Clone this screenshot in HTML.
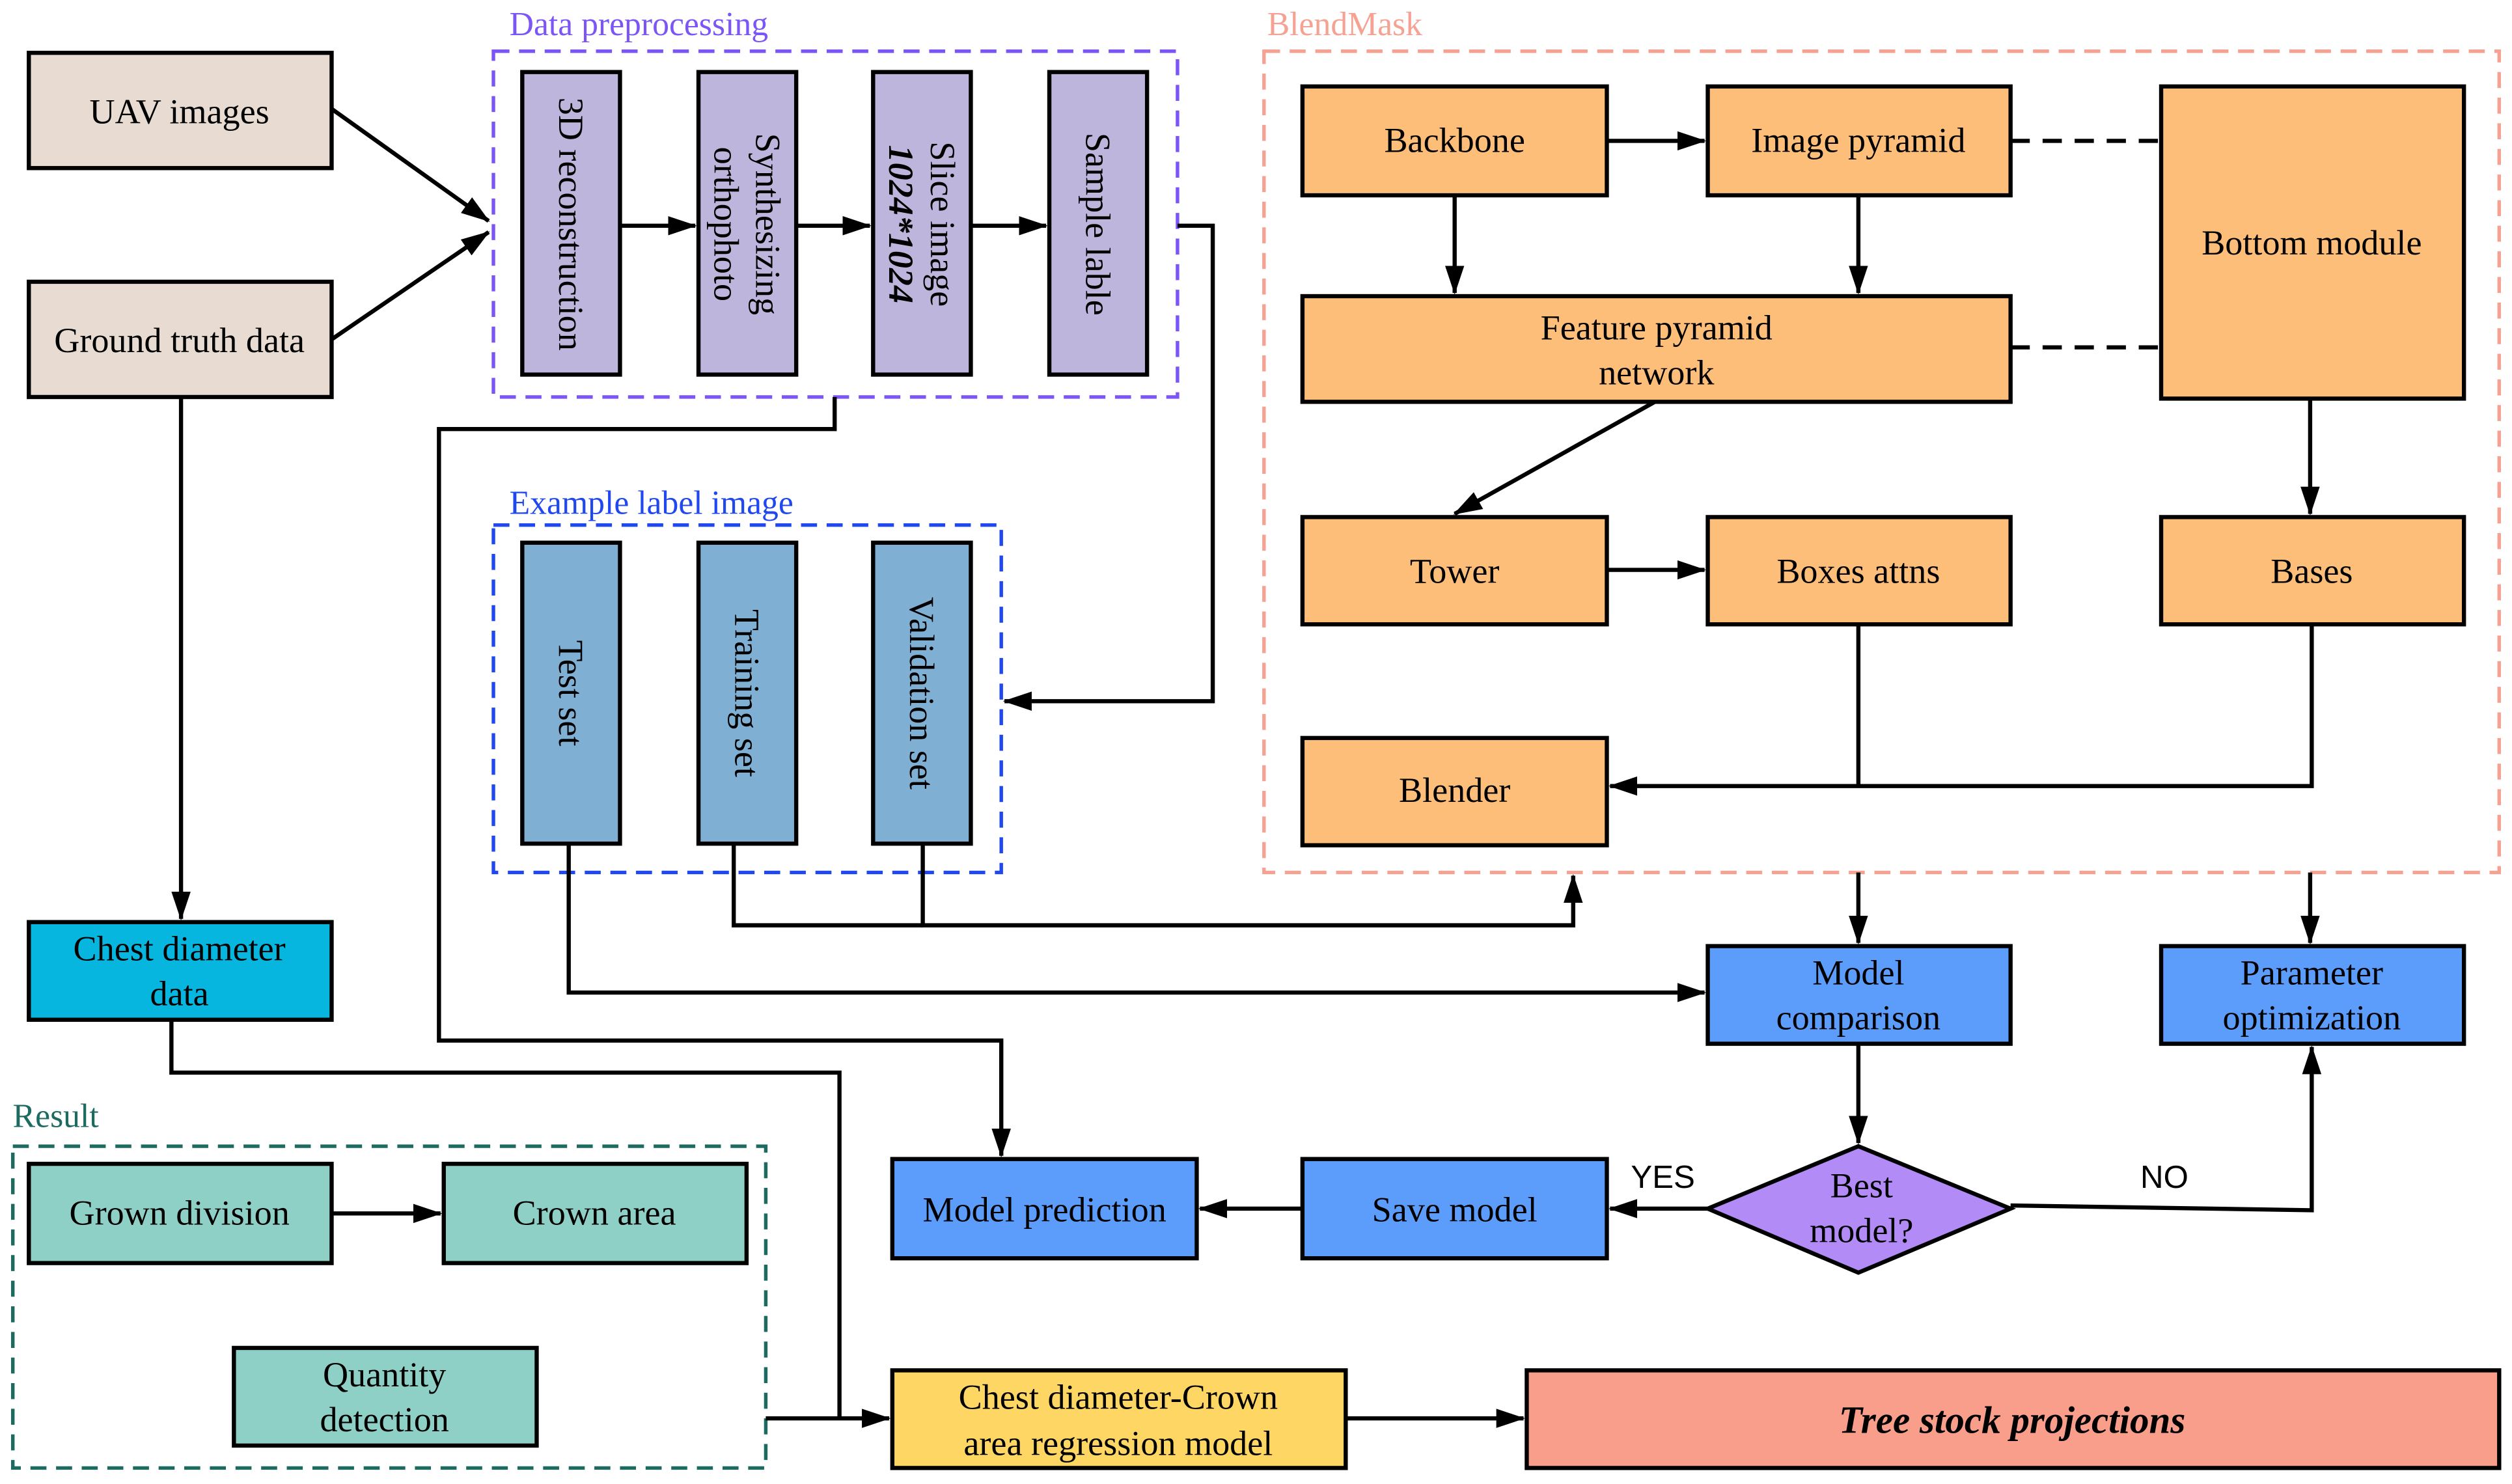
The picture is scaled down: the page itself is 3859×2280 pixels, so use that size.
<!DOCTYPE html>
<html><head><meta charset="utf-8"><style>html,body{margin:0;padding:0;background:#fff}svg{display:block}</style></head><body>
<svg width="3859" height="2280" viewBox="0 0 1568 927" preserveAspectRatio="none" xmlns="http://www.w3.org/2000/svg" font-family="Liberation Serif, serif" font-size="22">
<defs>
<marker id="b" markerWidth="18" markerHeight="12" refX="17" refY="6" orient="auto" markerUnits="userSpaceOnUse"><path d="M0,0 L18,6 L0,12z" fill="#000"/></marker></defs>
<g stroke="#000" stroke-width="2.6">
<rect x="308" y="32" width="427" height="216" fill="none" stroke="#7b55f6" stroke-width="2.2" stroke-dasharray="10,6"/>
<rect x="308" y="328" width="317" height="217" fill="none" stroke="#1f48f0" stroke-width="2.2" stroke-dasharray="10,6"/>
<rect x="789" y="32" width="771" height="513" fill="none" stroke="#f5a293" stroke-width="2.2" stroke-dasharray="10,6"/>
<rect x="8" y="716" width="470" height="201" fill="none" stroke="#1d6b60" stroke-width="2.2" stroke-dasharray="10,6"/>
<rect x="18" y="33" width="189" height="72" fill="#e7dbd2"/>
<rect x="18" y="176" width="189" height="72" fill="#e7dbd2"/>
<g fill="#bdb5dc"><rect x="326" y="45" width="61" height="189"/><rect x="436" y="45" width="61" height="189"/><rect x="545" y="45" width="61" height="189"/><rect x="655" y="45" width="61" height="189"/></g>
<g fill="#80afd4"><rect x="326" y="339" width="61" height="188"/><rect x="436" y="339" width="61" height="188"/><rect x="545" y="339" width="61" height="188"/></g>
<rect x="18" y="576" width="189" height="61" fill="#06b6df"/>
<g fill="#8ecfc6"><rect x="18" y="727" width="189" height="62"/><rect x="277" y="727" width="189" height="62"/><rect x="146" y="842" width="189" height="61"/></g>
<rect x="557" y="856" width="283" height="61" fill="#fdd663"/>
<rect x="953" y="856" width="607" height="61" fill="#f99e8a"/>
<g fill="#fdbe79"><rect x="813" y="54" width="190" height="68"/><rect x="1066" y="54" width="189" height="68"/><rect x="1349" y="54" width="189" height="195"/><rect x="813" y="185" width="442" height="66"/><rect x="813" y="323" width="190" height="67"/><rect x="1066" y="323" width="189" height="67"/><rect x="1349" y="323" width="189" height="67"/><rect x="813" y="461" width="190" height="67"/></g>
<g fill="#5c9dfb"><rect x="1066" y="591" width="189" height="61"/><rect x="1349" y="591" width="189" height="61"/><rect x="813" y="724" width="190" height="62"/><rect x="557" y="724" width="190" height="62"/></g>
<path d="M1066,755 L1160,716 L1255,755 L1160,795z" fill="#b38bf7"/>
<g fill="none">
<line x1="207" y1="68" x2="305" y2="138" marker-end="url(#b)"/>
<line x1="207" y1="212" x2="305" y2="145" marker-end="url(#b)"/>
<line x1="387" y1="141" x2="434" y2="141" marker-end="url(#b)"/>
<line x1="497" y1="141" x2="543" y2="141" marker-end="url(#b)"/>
<line x1="606" y1="141" x2="653" y2="141" marker-end="url(#b)"/>
<polyline points="735,141 757,141 757,438 627,438" marker-end="url(#b)"/>
<polyline points="521,248 521,268 274,268 274,650 625,650 625,722" marker-end="url(#b)"/>
<line x1="113" y1="248" x2="113" y2="574" marker-end="url(#b)"/>
<polyline points="107,637 107,670 524,670 524,886"/>
<line x1="478" y1="886" x2="555" y2="886" marker-end="url(#b)"/>
<line x1="207" y1="758" x2="275" y2="758" marker-end="url(#b)"/>
<line x1="840" y1="886" x2="951" y2="886" marker-end="url(#b)"/>
<line x1="1003" y1="88" x2="1064" y2="88" marker-end="url(#b)"/>
<line x1="908" y1="122" x2="908" y2="183" marker-end="url(#b)"/>
<line x1="1160" y1="122" x2="1160" y2="183" marker-end="url(#b)"/>
<line x1="1255" y1="88" x2="1349" y2="88" stroke-dasharray="12,8"/>
<line x1="1255" y1="217" x2="1349" y2="217" stroke-dasharray="12,8"/>
<line x1="1033" y1="251" x2="908" y2="321" marker-end="url(#b)"/>
<line x1="1003" y1="356" x2="1064" y2="356" marker-end="url(#b)"/>
<line x1="1442" y1="249" x2="1442" y2="321" marker-end="url(#b)"/>
<polyline points="1160,390 1160,491"/>
<polyline points="1443,390 1443,491 1005,491" marker-end="url(#b)"/>
<polyline points="458,527 458,578 576,578"/>
<polyline points="576,527 576,578 982,578 982,547" marker-end="url(#b)"/>
<polyline points="355,527 355,620 1064,620" marker-end="url(#b)"/>
<line x1="1160" y1="545" x2="1160" y2="589" marker-end="url(#b)"/>
<line x1="1442" y1="545" x2="1442" y2="589" marker-end="url(#b)"/>
<line x1="1160" y1="652" x2="1160" y2="714" marker-end="url(#b)"/>
<line x1="1066" y1="755" x2="1005" y2="755" marker-end="url(#b)"/>
<line x1="813" y1="755" x2="749" y2="755" marker-end="url(#b)"/>
<polyline points="1255,753 1443,756 1443,654" marker-end="url(#b)"/>
</g>
</g>
<g font-size="21">
<text x="318" y="22" fill="#7b55f6">Data preprocessing</text>
<text x="318" y="321" fill="#1f48f0">Example label image</text>
<text x="791" y="22" fill="#f5a293">BlendMask</text>
<text x="8" y="704" fill="#1d6b60">Result</text>
</g>
<g text-anchor="middle" fill="#000">
<text x="112" y="77">UAV images</text>
<text x="112" y="220">Ground truth data</text>
<text transform="translate(356,140) rotate(90)" y="7">3D reconstruction</text>
<text transform="translate(466,140) rotate(90)"><tspan x="0" y="-6">Synthesizing</tspan><tspan x="0" y="20">orthophoto</tspan></text>
<text transform="translate(575,140) rotate(90)"><tspan x="0" y="-6">Slice image</tspan><tspan x="0" y="20" font-weight="bold" font-style="italic">1024*1024</tspan></text>
<text transform="translate(685,140) rotate(90)" y="7">Sample lable</text>
<text transform="translate(356,433) rotate(90)" y="7">Test set</text>
<text transform="translate(466,433) rotate(90)" y="7">Training set</text>
<text transform="translate(575,433) rotate(90)" y="7">Validation set</text>
<text x="112" y="600">Chest diameter</text><text x="112" y="628">data</text>
<text x="112" y="765">Grown division</text>
<text x="371" y="765">Crown area</text>
<text x="240" y="866">Quantity</text><text x="240" y="894">detection</text>
<text x="698" y="880">Chest diameter-Crown</text><text x="698" y="909">area regression model</text>
<text x="1256" y="895" font-weight="bold" font-style="italic" font-size="24">Tree stock projections</text>
<text x="908" y="95">Backbone</text>
<text x="1160" y="95">Image pyramid</text>
<text x="1443" y="159">Bottom module</text>
<text x="1034" y="212">Feature pyramid</text><text x="1034" y="240">network</text>
<text x="908" y="364">Tower</text>
<text x="1160" y="364">Boxes attns</text>
<text x="1443" y="364">Bases</text>
<text x="908" y="501">Blender</text>
<text x="1160" y="615">Model</text><text x="1160" y="643">comparison</text>
<text x="1443" y="615">Parameter</text><text x="1443" y="643">optimization</text>
<text x="1162" y="748">Best</text><text x="1162" y="776">model?</text>
<text x="908" y="763">Save model</text>
<text x="652" y="763">Model prediction</text>
<text x="1038" y="742" font-family="Liberation Sans, sans-serif" font-size="20">YES</text>
<text x="1351" y="742" font-family="Liberation Sans, sans-serif" font-size="20">NO</text>
</g>
</svg>
</body></html>
